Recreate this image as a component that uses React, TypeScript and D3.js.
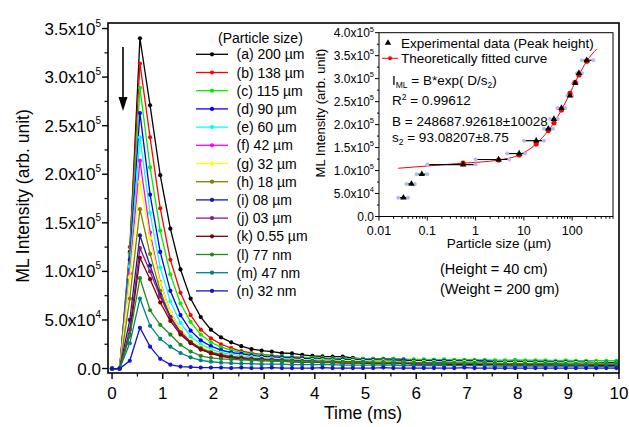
import React from "react";
import * as d3 from "d3";

// ---------- main chart data (intensity in thousands, arb. unit) ----------
const times = [0, 0.15, 0.35, 0.55, 0.75, 0.95, 1.15, 1.35, 1.55, 1.75, 1.95, 2.15, 2.35, 2.55, 2.75, 2.95, 3.15, 3.35, 3.55, 3.75, 3.95, 4.15, 4.35, 4.55, 4.75, 4.95, 5.15, 5.35, 5.55, 5.75, 5.95, 6.15, 6.35, 6.55, 6.75, 6.95, 7.15, 7.35, 7.55, 7.75, 7.95, 8.15, 8.35, 8.55, 8.75, 8.95, 9.15, 9.35, 9.55, 9.75, 9.95];

const seriesLabels = ["(a) 200 µm", "(b) 138 µm", "(c) 115 µm", "(d) 90 µm", "(e) 60 µm", "(f) 42 µm", "(g) 32 µm", "(h) 18 µm", "(i) 08 µm", "(j) 03 µm", "(k) 0.55 µm", "(l) 77 nm", "(m) 47 nm", "(n) 32 nm"];
const seriesColors = ["#000000", "#ff0000", "#00ee00", "#0000ff", "#00ffff", "#ff00ff", "#ffff00", "#808000", "#1a1a8c", "#8c1a8c", "#800000", "#1e8c1e", "#008080", "#1414c8"];

const sA = [0, 0, 120, 340, 271, 199, 144, 102, 72, 53, 40, 32, 27, 23, 20, 18.5, 17.5, 16, 15.5, 14, 13, 12.5, 12.3, 12.3, 11, 10, 10, 10, 10, 9.5, 9, 9, 9, 8.5, 8.5, 8.5, 8.5, 8, 8, 7.5, 8, 7, 7, 6.5, 6.5, 6.5, 6, 6, 6, 6, 6];
const sB = [0, 0, 125, 314, 238, 165, 112, 78, 55, 40, 31, 25, 21, 18, 16, 14.5, 13.5, 12.5, 12, 11.5, 11, 10.5, 10, 10, 9.5, 9.5, 9, 9, 8.5, 8.5, 8, 8, 7.5, 7.5, 7.5, 7, 7, 7, 6.5, 6.5, 6.5, 6, 6, 6, 6, 5.5, 5.5, 5.5, 5.5, 5, 5];
const sC = [0, 0, 118, 289, 207, 142, 97, 67, 48, 35, 27, 22, 19, 16.5, 15, 14, 13, 12.5, 12, 11.5, 11, 11, 10.5, 10.5, 10, 10, 10, 9.5, 10, 9.5, 9.5, 9.5, 9, 9.5, 9, 9, 9, 9, 8.5, 8.5, 9, 8.5, 8.5, 8.5, 8, 8.5, 8, 8, 8, 8, 8];
const sD = [0, 0, 112, 263, 179, 120, 80, 55, 39, 29, 23, 19, 16.5, 15, 13.5, 12.5, 12, 11.5, 11, 10.5, 10, 10, 9.5, 9.5, 9, 9, 9, 8.5, 8.5, 8.5, 8, 8, 8, 8, 7.5, 7.5, 7.5, 7.5, 7, 7, 7, 7, 7, 6.5, 6.5, 6.5, 6.5, 6.5, 6, 6, 6];
const sE = [0, 0, 105, 238, 160, 104, 69, 47, 33, 25, 20, 16.5, 14.5, 13, 12, 11, 10.5, 10, 9.5, 9, 9, 8.5, 8.5, 8, 8, 8, 7.5, 7.5, 7.5, 7, 7, 7, 7, 6.5, 6.5, 6.5, 6.5, 6, 6, 6, 6, 6, 5.5, 5.5, 5.5, 5.5, 5.5, 5, 5, 5, 5];
const sF = [0, 0, 98, 214, 140, 89, 58, 40, 28, 21, 17, 14.5, 12.5, 11.5, 10.5, 10, 9.5, 9, 8.5, 8, 8, 7.5, 7.5, 7, 7, 7, 6.5, 6.5, 6.5, 6, 6, 6, 6, 5.5, 5.5, 5.5, 5.5, 5, 5, 5, 5, 5, 4.5, 4.5, 4.5, 4.5, 4.5, 4, 4, 4, 4];
const sG = [0, 0, 94, 192, 134, 88, 58, 40, 29, 22, 18, 15, 13, 12, 11, 10.5, 10, 9.5, 9, 9, 8.5, 8.5, 8, 8, 8, 7.5, 7.5, 7.5, 7, 7, 7, 7, 6.5, 6.5, 6.5, 6.5, 6.5, 6, 6, 6, 6, 6, 6, 5.5, 5.5, 5.5, 5.5, 5.5, 5.5, 5, 5];
const sH = [0, 0, 72, 164, 118, 80, 53, 37, 27, 21, 17, 14.5, 12.5, 11.5, 10.5, 10, 9.5, 9, 8.5, 8, 8, 7.5, 7.5, 7, 7, 7, 6.5, 6.5, 6.5, 6.5, 6, 6, 6, 6, 5.5, 5.5, 5.5, 5.5, 5.5, 5, 5, 5, 5, 5, 5, 4.5, 4.5, 4.5, 4.5, 4.5, 4.5];
const sI = [0, 0, 50, 137, 106, 76, 53, 37, 27, 20, 16, 13.5, 12, 11, 10, 9.5, 9, 8.5, 8, 7.5, 7.5, 7, 7, 6.5, 6.5, 6.5, 6, 6, 6, 6, 5.5, 5.5, 5.5, 5.5, 5, 5, 5, 5, 5, 4.5, 4.5, 4.5, 4.5, 4.5, 4.5, 4, 4, 4, 4, 4, 4];
const sJ = [0, 0, 40, 124, 100, 74, 52, 37, 27, 20, 16, 13, 11.5, 10.5, 9.5, 9, 8.5, 8, 7.5, 7, 7, 6.5, 6.5, 6, 6, 6, 5.5, 5.5, 5.5, 5.5, 5, 5, 5, 5, 4.5, 4.5, 4.5, 4.5, 4.5, 4, 4, 4, 4, 4, 4, 3.5, 3.5, 3.5, 3.5, 3.5, 3.5];
const sK = [0, 0, 35, 114, 92, 68, 49, 35, 26, 19.5, 15.5, 12.5, 11, 10, 9, 8.5, 8, 7.5, 7, 6.5, 6.5, 6, 6, 5.5, 5.5, 5.5, 5, 5, 5, 5, 4.5, 4.5, 4.5, 4.5, 4, 4, 4, 4, 4, 3.5, 3.5, 3.5, 3.5, 3.5, 3.5, 3, 3, 3, 3, 3, 3];
const sL = [0, 0, 34, 93, 60, 45, 35, 24.5, 17.5, 13, 11, 10, 9.5, 9, 8.5, 8, 8, 7.5, 7.5, 7, 7, 7, 6.5, 6.5, 6.5, 6.5, 6, 6, 6, 6, 6, 5.5, 5.5, 5.5, 5.5, 5.5, 5.5, 5, 5, 5, 5, 5, 5, 5, 4.5, 4.5, 4.5, 4.5, 4.5, 4.5, 4.5];
const sM = [0, 0, 26, 72, 44, 30.5, 22.5, 16, 11.5, 8.5, 7, 6, 5.5, 5, 5, 4.5, 4.5, 4.5, 4, 4, 4, 4, 4, 3.5, 3.5, 3.5, 3.5, 3.5, 3.5, 3, 3, 3, 3, 3, 3, 3, 3, 3, 2.5, 2.5, 2.5, 2.5, 2.5, 2.5, 2.5, 2.5, 2.5, 2.5, 2, 2, 2];
const sN = [0, 0, 8, 42, 22.5, 10, 4, 2, 1.5, 1, 1, 1, 0.5, 1, 0.5, 0.5, 1, 0.5, 0.5, 0.5, 0.5, 1, 0.5, 0.5, 0.5, 0.5, 0.5, 1, 0.5, 0.5, 0.5, 0.5, 0.5, 0.5, 0.5, 1, 0.5, 0.5, 0.5, 0.5, 0.5, 0.5, 0.5, 0.5, 0.5, 0.5, 0.5, 0.5, 0.5, 0.5, 0.5];
const seriesValues = [sA, sB, sC, sD, sE, sF, sG, sH, sI, sJ, sK, sL, sM, sN];

const xTicks = [0, 1, 2, 3, 4, 5, 6, 7, 8, 9, 10];
const yTicks = [0, 50, 100, 150, 200, 250, 300, 350];
const yTickMant = ["0.0", "5.0x10", "1.0x10", "1.5x10", "2.0x10", "2.5x10", "3.0x10", "3.5x10"];
const yTickExp = ["", "4", "5", "5", "5", "5", "5", "5"];

// ---------- inset data ----------
const sizes = [200, 138, 115, 90, 60, 42, 32, 18, 8, 3, 0.55, 0.077, 0.047, 0.032];
const peakHeights = [340, 312, 290, 263, 236, 212, 191, 165, 137, 124, 113, 92, 71, 41];
const sizeLow = [158, 125, 105, 80, 50, 35, 26, 10, 4.5, 1, 0.1, 0.06, 0.037, 0.025];
const sizeHigh = [275, 160, 125, 100, 72, 50, 40, 26, 10.7, 5, 1, 0.1, 0.055, 0.04];
const fitSizes = [0.025, 0.1, 0.55, 3, 8, 18, 32, 42, 60, 90, 115, 138, 200, 325];
const fitValues = [105, 110, 116, 123, 134, 158, 187, 204, 232, 268, 292, 308, 338, 365];
const fitDotSizes = [0.55, 3, 8, 18, 32, 42, 60, 90, 115, 138, 200];
const insetYTicks = [0, 50, 100, 150, 200, 250, 300, 350, 400];
const insetYMant = ["0.0", "5.0x10", "1.0x10", "1.5x10", "2.0x10", "2.5x10", "3.0x10", "3.5x10", "4.0x10"];
const insetYExp = ["", "4", "5", "5", "5", "5", "5", "5", "5"];
const insetXTicks = [0.01, 0.1, 1, 10, 100];
const insetXLabels = ["0.01", "0.1", "1", "10", "100"];

const FONT = "'Liberation Sans', Arial, Helvetica, sans-serif";

export default function App() {
  // main scales
  const x = d3.scaleLinear().domain([-0.08, 10]).range([108, 619]);
  const y = d3.scaleLinear().domain([-4.6, 355.7]).range([373, 23]);
  const line = d3
    .line<number>()
    .x((_, i) => x(times[i]))
    .y((v) => y(v));

  // inset scales
  const ix = d3.scaleLog().domain([0.01, 700]).range([379, 613]);
  const iy = d3.scaleLinear().domain([0, 400]).range([216.5, 32.7]);
  const fitLine = d3
    .line<number>()
    .x((_, i) => ix(fitSizes[i]))
    .y((v) => iy(v))
    .curve(d3.curveMonotoneX);
  const fitAt = (s: number) => fitValues[fitSizes.indexOf(s)];

  const xMinor = d3.range(0, 10.01, 0.5).filter((v) => Math.abs(v - Math.round(v)) > 0.01);
  const yMinor = d3.range(25, 351, 50);
  const ixMinor: number[] = [];
  [0.01, 0.1, 1, 10, 100].forEach((dec) => {
    for (let k = 2; k <= 9; k++) if (dec * k <= 700) ixMinor.push(dec * k);
  });
  const iyMinor = d3.range(25, 400, 50);
  const tri = d3.symbol().type(d3.symbolTriangle).size(18)() as string;

  const legendY0 = 54.3;
  const legendDy = 18.2;

  return (
    <svg
      width={629}
      height={427}
      style={{ position: "absolute", left: 0, top: 0, background: "#fff" }}
      fontFamily={FONT}
    >
      <rect x={0} y={0} width={629} height={427} fill="#fff" />

      {/* series */}
      {seriesValues.map((vals, si) => (
        <g key={si}>
          <path d={line(vals) as string} fill="none" stroke={seriesColors[si]} strokeWidth={1.3} />
          {vals.map((v, i) => (
            <circle key={i} cx={x(times[i])} cy={y(v)} r={2.1} fill={seriesColors[si]} />
          ))}
        </g>
      ))}

      {/* main frame */}
      <rect x={108} y={23} width={511} height={350} fill="none" stroke="#000" strokeWidth={1.6} />

      {/* x axis ticks */}
      {xTicks.map((t) => (
        <g key={t}>
          <line x1={x(t)} x2={x(t)} y1={373} y2={379} stroke="#000" strokeWidth={1.4} />
          <text x={x(t)} y={399} fontSize={17} textAnchor="middle">
            {t}
          </text>
        </g>
      ))}
      {xMinor.map((t) => (
        <line key={t} x1={x(t)} x2={x(t)} y1={373} y2={376.5} stroke="#000" strokeWidth={1.2} />
      ))}
      <text x={363} y={419} fontSize={17.5} textAnchor="middle">
        Time (ms)
      </text>

      {/* y axis ticks */}
      {yTicks.map((t, i) => (
        <g key={t}>
          <line x1={102} x2={108} y1={y(t)} y2={y(t)} stroke="#000" strokeWidth={1.4} />
          <text x={101} y={y(t) + 6} fontSize={17} textAnchor="end">
            {yTickMant[i]}
            {yTickExp[i] && (
              <tspan fontSize={10} dy={-8}>
                {yTickExp[i]}
              </tspan>
            )}
          </text>
        </g>
      ))}
      {yMinor.map((t) => (
        <line key={t} x1={104.5} x2={108} y1={y(t)} y2={y(t)} stroke="#000" strokeWidth={1.2} />
      ))}
      <text transform="translate(29,196) rotate(-90)" fontSize={17.5} textAnchor="middle">
        ML Intensity (arb. unit)
      </text>

      {/* arrow */}
      <line x1={123} x2={123} y1={47} y2={100} stroke="#000" strokeWidth={1.6} />
      <polygon points="118.5,97 127.5,97 123,111" fill="#000" />

      {/* legend */}
      <text x={218} y={43} fontSize={14}>
        (Particle size)
      </text>
      {seriesLabels.map((lab, i) => {
        const cy = legendY0 + i * legendDy;
        return (
          <g key={i}>
            <line x1={196} x2={228} y1={cy} y2={cy} stroke={seriesColors[i]} strokeWidth={1.3} />
            <circle cx={212} cy={cy} r={2.1} fill={seriesColors[i]} />
            <text x={236.5} y={cy + 5} fontSize={14}>
              {lab}
            </text>
          </g>
        );
      })}

      {/* condition text */}
      <text x={440} y={273.5} fontSize={14.5}>
        (Height = 40 cm)
      </text>
      <text x={440} y={293.5} fontSize={14.5}>
        (Weight = 200 gm)
      </text>

      {/* ---------- inset ---------- */}
      <rect x={379} y={32.7} width={234} height={183.8} fill="#fff" stroke="#000" strokeWidth={1} />
      {/* fit curve */}
      <path d={fitLine(fitValues) as string} fill="none" stroke="#ff0000" strokeWidth={1} />
      {/* error bars */}
      {sizes.map((s, i) => (
        <g key={"e" + i}>
          <line x1={ix(sizeLow[i])} x2={ix(sizeHigh[i])} y1={iy(peakHeights[i])} y2={iy(peakHeights[i])} stroke="#000" strokeWidth={1.2} />
          <circle cx={ix(sizeLow[i])} cy={iy(peakHeights[i])} r={2} fill="#b4bcee" />
          <circle cx={ix(sizeHigh[i])} cy={iy(peakHeights[i])} r={2} fill="#b4bcee" />
        </g>
      ))}
      {fitDotSizes.map((s) => (
        <circle key={"f" + s} cx={ix(s)} cy={iy(fitAt(s))} r={2.6} fill="#ff0000" />
      ))}
      {sizes.map((s, i) => (
        <path key={"t" + i} d={tri} transform={`translate(${ix(s)},${iy(peakHeights[i])})`} fill="#000" />
      ))}

      {/* inset axes ticks */}
      {insetYTicks.map((t, i) => (
        <g key={"iy" + t}>
          <line x1={375} x2={379} y1={iy(t)} y2={iy(t)} stroke="#000" strokeWidth={1} />
          <text x={374} y={iy(t) + 4.3} fontSize={12} textAnchor="end">
            {insetYMant[i]}
            {insetYExp[i] && (
              <tspan fontSize={7.5} dy={-5.5}>
                {insetYExp[i]}
              </tspan>
            )}
          </text>
        </g>
      ))}
      {iyMinor.map((t) => (
        <line key={"iym" + t} x1={377} x2={379} y1={iy(t)} y2={iy(t)} stroke="#000" strokeWidth={1} />
      ))}
      {insetXTicks.map((t, i) => (
        <g key={"ix" + t}>
          <line x1={ix(t)} x2={ix(t)} y1={216.5} y2={220.5} stroke="#000" strokeWidth={1} />
          <text x={ix(t)} y={234.5} fontSize={12.5} textAnchor="middle">
            {insetXLabels[i]}
          </text>
        </g>
      ))}
      {ixMinor.map((t) => (
        <line key={"ixm" + t} x1={ix(t)} x2={ix(t)} y1={216.5} y2={218.8} stroke="#000" strokeWidth={1} />
      ))}
      <text x={499} y={248} fontSize={13.5} textAnchor="middle">
        Particle size (µm)
      </text>
      <text transform="translate(325,113) rotate(-90)" fontSize={13} textAnchor="middle">
        ML Intensity (arb. unit)
      </text>

      {/* inset legend and fit parameters */}
      <path d={tri} transform="translate(388,43)" fill="#000" />
      <text x={401} y={47.5} fontSize={13.5}>
        Experimental data (Peak height)
      </text>
      <line x1={382} x2={398} y1={58.3} y2={58.3} stroke="#ff0000" strokeWidth={1} />
      <circle cx={390} cy={58.3} r={2} fill="#ff0000" />
      <text x={401} y={62.8} fontSize={13.5}>
        Theoretically fitted curve
      </text>
      <text x={392} y={84.5} fontSize={13.5}>
        I
        <tspan fontSize={8.5} dy={3.5}>
          ML
        </tspan>
        <tspan dy={-3.5}> = B*exp( D/s</tspan>
        <tspan fontSize={8.5} dy={3.5}>
          2
        </tspan>
        <tspan dy={-3.5}>)</tspan>
      </text>
      <text x={392} y={105} fontSize={13.5}>
        R
        <tspan fontSize={8.5} dy={-5.5}>
          2
        </tspan>
        <tspan dy={5.5}> = 0.99612</tspan>
      </text>
      <text x={392} y={126} fontSize={13.5}>
        B = 248687.92618±10028
      </text>
      <text x={392} y={141.5} fontSize={13.5}>
        s
        <tspan fontSize={8.5} dy={3.5}>
          2
        </tspan>
        <tspan dy={-3.5}> = 93.08207±8.75</tspan>
      </text>
    </svg>
  );
}
